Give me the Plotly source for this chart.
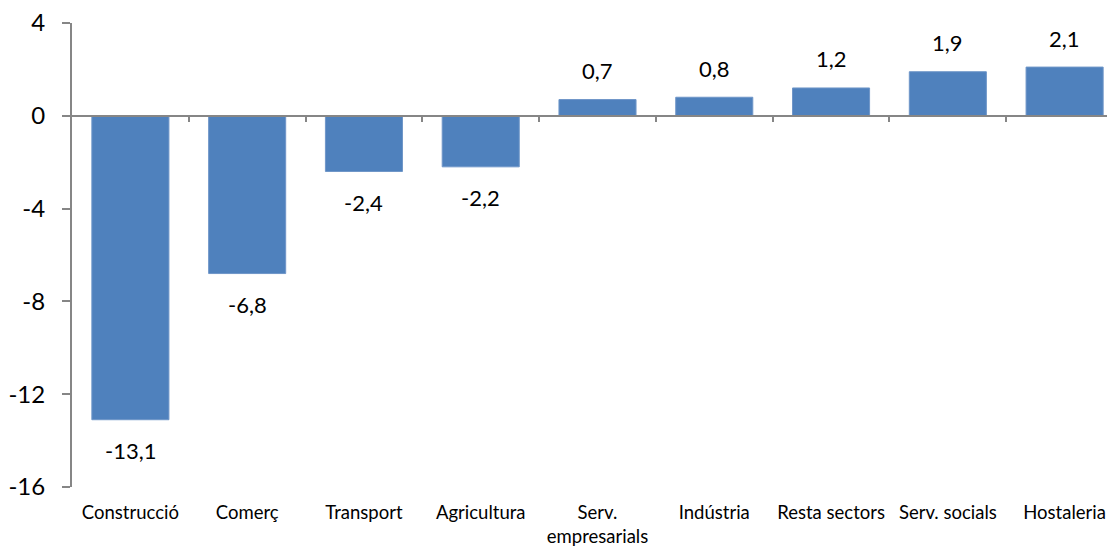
import plotly.graph_objects as go

# Sector data
categories = ['Construcció', 'Comerç', 'Transport', 'Agricultura', 'Serv.<br>empresarials',
              'Indústria', 'Resta sectors', 'Serv. socials', 'Hostaleria']
values = [-13.1, -6.8, -2.4, -2.2, 0.7, 0.8, 1.2, 1.9, 2.1]
y_ticks = [-16, -12, -8, -4, 0, 4]

labels = [f'{v:.1f}'.replace('.', ',') for v in values]
positions = list(range(len(categories)))

font_family = 'Lato, Carlito, Calibri, sans-serif'
axis_color = '#868686'

fig = go.Figure()

fig.add_trace(go.Bar(
    x=positions,
    y=values,
    marker=dict(color='#4F81BD', line=dict(color='#6F96C8', width=1)),
    width=0.66,
    hoverinfo='skip',
    showlegend=False,
))

# dummy trace so the zero-line axis gets drawn
fig.add_trace(go.Scatter(x=positions, y=[None] * len(positions), xaxis='x2',
                         mode='markers', showlegend=False, hoverinfo='skip'))

# value labels above / below bars
for p, v, t in zip(positions, values, labels):
    fig.add_annotation(x=p, y=v, text=t, showarrow=False,
                       yshift=29 if v > 0 else -31,
                       font=dict(size=22, color='black', family=font_family))

fig.update_layout(
    width=1115, height=550,
    margin=dict(l=64, r=0, t=15, b=71),
    paper_bgcolor='white',
    plot_bgcolor='white',
    font=dict(family=font_family, color='black'),
    xaxis=dict(
        range=[-0.5, 8.5],
        tickvals=positions,
        ticktext=categories,
        showline=False, showgrid=False, zeroline=False,
        ticks='', ticklabelstandoff=12,
        tickfont=dict(size=18.5),
    ),
    xaxis2=dict(
        overlaying='x', anchor='free', position=0.8,
        range=[-0.5, 8.5],
        tickvals=[i + 0.5 for i in positions],
        showticklabels=False,
        showline=True, linecolor=axis_color, linewidth=2,
        ticks='outside', ticklen=5, tickcolor=axis_color, tickwidth=2,
        showgrid=False, zeroline=False,
    ),
    yaxis=dict(
        range=[-16, 4],
        tickvals=y_ticks,
        ticktext=[str(t) for t in y_ticks],
        showline=True, linecolor=axis_color, linewidth=2,
        ticks='outside', ticklen=8, tickcolor=axis_color, tickwidth=2,
        showgrid=False, zeroline=False,
        ticklabelstandoff=12,
        ticklabeloverflow='allow',
        tickfont=dict(size=24),
    ),
)

fig.write_html('out.html')
